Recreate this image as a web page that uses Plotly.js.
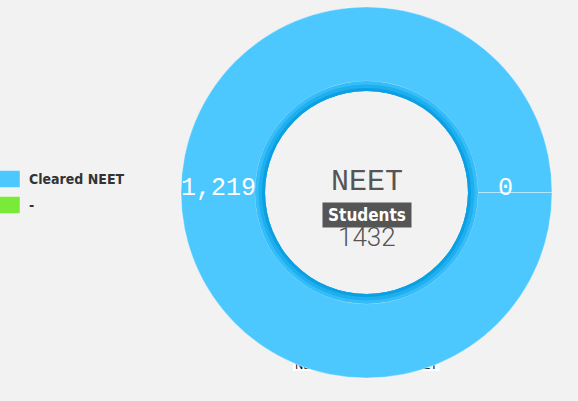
<!DOCTYPE html>
<html>
<head>
<meta charset="utf-8">
<script src="https://cdn.plot.ly/plotly-3.0.1.min.js"></script>
<style>
  html, body { margin: 0; padding: 0; background: #f2f2f2; }
  #chart { width: 578px; height: 401px; }
</style>
</head>
<body>
<div id="chart"></div>
<script>
// chart data
var labels = ['Cleared NEET', '-'];
var values = [1219, 0];
var colors = ['#4dc8fe', '#7aea38'];
var centerTitle = 'NEET';
var centerLabel = 'Students';
var totalStudents = 1432;
var footText = 'Number of Students in NEET';

var W = 578, H = 401;
var cx = 366.5, cy = 192.5;

// pixel circle -> pie domain
function dom(r) {
  return {
    x: [(cx - r) / W, (cx + r) / W],
    y: [(H - cy - r) / H, (H - cy + r) / H]
  };
}
function px(x) { return x / W; }
function py(y) { return (H - y) / H; }

var main = {
  type: 'pie',
  labels: labels,
  values: values,
  sort: false,
  rotation: 90,
  direction: 'counterclockwise',
  hole: 0.6,
  domain: dom(185.5),
  textinfo: 'none',
  hoverinfo: 'label+value',
  showlegend: false,
  marker: { colors: colors, line: { color: 'rgba(255,255,255,0.35)', width: 1 } }
};

// inner shadow rings, stacked so every one reaches down to the hole edge
var ringColors = ['#36bdf8', '#1eaff0', '#0ca0e2'];
var ringR = [111.5, 108, 104.5];
var holeR = 101.5;
var rings = ringColors.map(function (c, i) {
  return {
    type: 'pie',
    labels: labels,
    values: values,
    sort: false,
    rotation: 90,
    hole: holeR / ringR[i],
    domain: dom(ringR[i]),
    textinfo: 'none',
    hoverinfo: 'skip',
    showlegend: false,
    marker: { colors: [c, c], line: { width: 0 } }
  };
});

var annotations = [];
var shapes = [];

// slice value labels on the ring (left = big slice middle, right = zero slice)
var midR = (185.5 + 111.5) / 2;
var sliceX = [cx - midR, cx + midR];
values.forEach(function (v, i) {
  annotations.push({
    x: px(sliceX[i]), y: py(188), xref: 'paper', yref: 'paper',
    text: v.toLocaleString('en-US'), showarrow: false,
    font: { family: 'Liberation Mono, monospace', size: 25, color: '#ffffff' }
  });
});

// centre text
annotations.push({
  x: px(cx), y: py(182), xref: 'paper', yref: 'paper', text: centerTitle, showarrow: false,
  font: { family: 'Liberation Mono, monospace', size: 30, color: '#555555' }
});
annotations.push({
  x: px(cx), y: py(214.5), xref: 'paper', yref: 'paper', text: centerLabel, showarrow: false,
  bgcolor: '#555555', width: 86, height: 22, borderpad: 1,
  font: { family: 'DejaVu Sans Condensed, DejaVu Sans, sans-serif', size: 17, weight: 'bold', color: '#ffffff' }
});
annotations.push({
  x: px(cx), y: py(237), xref: 'paper', yref: 'paper', text: String(totalStudents), showarrow: false,
  font: { family: 'Roboto, sans-serif', size: 26, weight: 300, color: '#555555' }
});

// legend
labels.forEach(function (lab, i) {
  var yc = 179 + i * 26;
  shapes.push({
    type: 'rect', xref: 'paper', yref: 'paper', layer: 'above',
    x0: px(-1), x1: px(20), y0: py(yc - 8.5), y1: py(yc + 8.5),
    fillcolor: colors[i], line: { color: 'rgba(255,255,255,0.4)', width: 1 }
  });
  annotations.push({
    x: px(27), y: py(yc), xref: 'paper', yref: 'paper', xanchor: 'left',
    text: lab, showarrow: false,
    font: { family: 'DejaVu Sans Condensed, DejaVu Sans, sans-serif', size: 14, weight: 'bold', color: '#333333' }
  });
});

// caption box sitting behind the donut
shapes.push({
  type: 'rect', xref: 'paper', yref: 'paper', layer: 'below',
  x0: px(293), x1: px(439.5), y0: py(371), y1: py(357),
  fillcolor: '#ffffff', line: { width: 0 },
  label: { text: footText, font: { family: 'Liberation Sans, sans-serif', size: 11, color: '#000000' }, textposition: 'middle center' }
});

var layout = {
  width: W,
  height: H,
  margin: { l: 0, r: 0, t: 0, b: 0 },
  paper_bgcolor: '#f2f2f2',
  plot_bgcolor: '#f2f2f2',
  showlegend: false,
  annotations: annotations,
  shapes: shapes
};

Plotly.newPlot('chart', [main].concat(rings), layout, { displayModeBar: false, staticPlot: true });
</script>
</body>
</html>
